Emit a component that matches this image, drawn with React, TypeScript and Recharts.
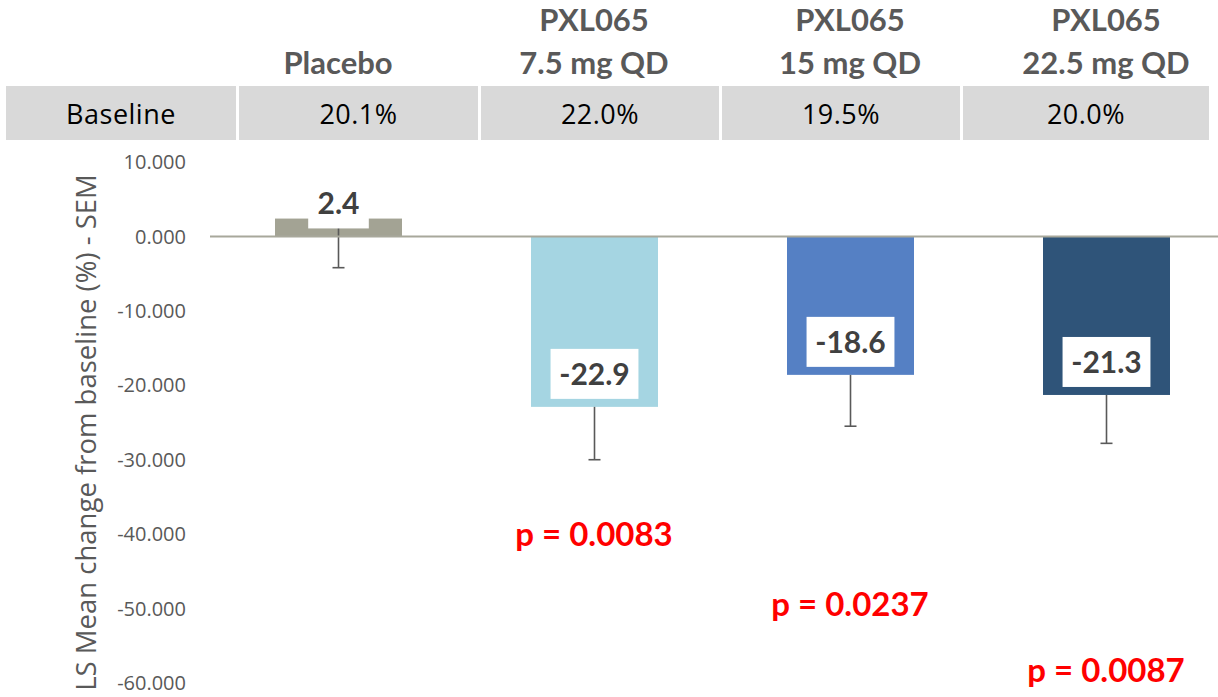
import React from "react";
import {
  ComposedChart,
  Bar,
  Scatter,
  XAxis,
  YAxis,
  ReferenceLine,
  LabelList,
  Cell,
} from "recharts";

// chart values
const groupNames = ["", "PXL065", "PXL065", "PXL065"];
const doseLabels = ["Placebo", "7.5 mg QD", "15 mg QD", "22.5 mg QD"];
const baselineValues = ["20.1%", "22.0%", "19.5%", "20.0%"];
const lsMeanChange = [2.4, -22.9, -18.6, -21.3];
const semValues = [6.6, 7.1, 6.9, 6.5];
const pValueLabels = ["", "p = 0.0083", "p = 0.0237", "p = 0.0087"];
const pValueY = [null, -40.0, -49.4, -58.3];
const barColors = ["#a3a394", "#a5d5e2", "#5580c4", "#2f5479"];
const yTicks = [10, 0, -10, -20, -30, -40, -50, -60];

const chartData = doseLabels.map((dose, i) => ({
  key: dose,
  group: groupNames[i],
  dose,
  change: lsMeanChange[i],
  sem: semValues[i],
  pLabel: pValueLabels[i],
  pY: pValueY[i],
}));

const GREY = "#595959";

// bar + downward SEM whisker, scaled from the bar's own pixel height
const BarWithSem = (props: any) => {
  const { x, y, width, height, fill, payload } = props;
  const top = Math.min(y, y + height);
  const h = Math.abs(height);
  const ppu = h / Math.abs(payload.change);
  const end = payload.change >= 0 ? top : top + h;
  const errEnd = end + payload.sem * ppu;
  const cx = x + width / 2;
  return (
    <g>
      <rect x={x} y={top} width={width} height={h} fill={fill} />
      <line x1={cx} x2={cx} y1={end} y2={errEnd} stroke={GREY} strokeWidth={1.6} />
      <line x1={cx - 6} x2={cx + 6} y1={errEnd} y2={errEnd} stroke={GREY} strokeWidth={1.6} />
    </g>
  );
};

const charW = (c: string) => (c === "-" ? 0.33 : c === "." ? 0.26 : 0.58);

const ValueBox = (props: any) => {
  const { x, y, width, height, value } = props;
  const lower = Math.max(y, y + height);
  const txt = Number(value).toFixed(1);
  const fs = 30;
  const tw = txt.split("").reduce((s, c) => s + charW(c), 0) * fs;
  const bw = tw + 18;
  const bh = 50;
  const cx = x + width / 2;
  const by = lower - 8 - bh;
  return (
    <g>
      <rect x={cx - bw / 2} y={by} width={bw} height={bh} fill="#ffffff" />
      <text
        x={cx}
        y={by + bh / 2}
        dy="0.36em"
        textAnchor="middle"
        fontFamily="Lato"
        fontWeight={700}
        fontSize={fs}
        fill="#404040"
      >
        {txt}
      </text>
    </g>
  );
};

const HeaderTick = (props: any) => {
  const { x, y, index } = props;
  const d = chartData[index];
  return (
    <g>
      {d.group && (
        <text x={x} y={y - 142} dy="0.36em" textAnchor="middle" fontFamily="Lato" fontWeight={700} fontSize={31} fill={GREY}>
          {d.group}
        </text>
      )}
      <text x={x} y={y - 99} dy="0.36em" textAnchor="middle" fontFamily="Lato" fontWeight={700} fontSize={31} fill={GREY}>
        {d.dose}
      </text>
    </g>
  );
};

const PValueText = (props: any) => {
  const { cx, cy, payload } = props;
  if (!payload || !payload.pLabel || cy == null || isNaN(cy)) return <g />;
  return (
    <text x={cx} y={cy} dy="0.36em" textAnchor="middle" fontFamily="Lato" fontWeight={700} fontSize={33} fill="#ff0000">
      {payload.pLabel}
    </text>
  );
};

const YLabel = (props: any) => {
  const { viewBox } = props;
  const cx = viewBox.x + 86;
  const cy = viewBox.y + viewBox.height / 2 + 10;
  return (
    <text
      x={cx}
      y={cy}
      dy="0.36em"
      textAnchor="middle"
      transform={`rotate(-90, ${cx}, ${cy})`}
      fontFamily="Open Sans"
      fontSize={27.5}
      fill={GREY}
    >
      LS Mean change from baseline (%) - SEM
    </text>
  );
};

const cellWidths = [230, 239, 238, 238, 246];

export default function App() {
  return (
    <div style={{ position: "relative", width: 1218, height: 697, overflow: "hidden", background: "#fff" }}>
      <style>{"body{margin:0;overflow:hidden}"}</style>
      <ComposedChart
        width={1240}
        height={697}
        data={chartData}
        margin={{ top: 0, right: 6, bottom: 14, left: 0 }}
      >
        <XAxis
          dataKey="key"
          orientation="top"
          height={162}
          axisLine={false}
          tickLine={false}
          tickSize={0}
          tickMargin={0}
          interval={0}
          tick={<HeaderTick />}
        />
        <YAxis
          domain={[-60, 10]}
          ticks={yTicks}
          interval={0}
          width={210}
          axisLine={false}
          tickLine={false}
          tickMargin={18}
          tickFormatter={(v: number) => v.toFixed(3)}
          tick={{ fill: GREY, fontFamily: "Open Sans", fontSize: 20 }}
          label={<YLabel />}
        />
        <Bar dataKey="change" barSize={127} shape={<BarWithSem />} isAnimationActive={false}>
          {chartData.map((d, i) => (
            <Cell key={d.key} fill={barColors[i]} />
          ))}
          <LabelList dataKey="change" content={<ValueBox />} />
        </Bar>
        <ReferenceLine y={0} stroke="#a8a89b" strokeWidth={2} />
        <Scatter dataKey="pY" shape={<PValueText />} isAnimationActive={false} />
      </ComposedChart>
      <div
        style={{
          position: "absolute",
          left: 6,
          top: 86,
          height: 54,
          display: "flex",
          gap: 3,
          fontFamily: "Open Sans",
          fontSize: 27,
          letterSpacing: 0.5,
          color: "#000",
        }}
      >
        {["Baseline", ...baselineValues].map((t, i) => (
          <div
            key={i}
            style={{
              width: cellWidths[i],
              height: 54,
              background: "#d9d9d9",
              display: "flex",
              alignItems: "center",
              justifyContent: "center",
            }}
          >
            {t}
          </div>
        ))}
      </div>
    </div>
  );
}
